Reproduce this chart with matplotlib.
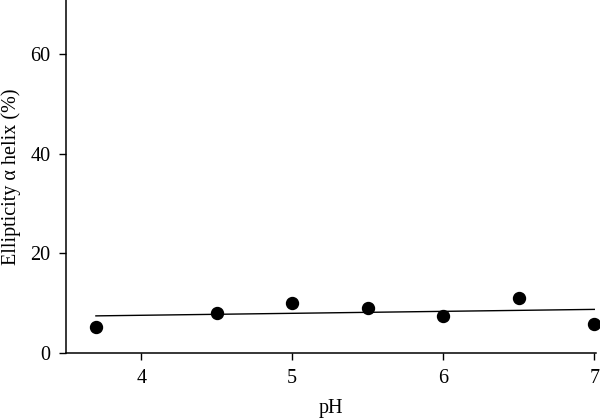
import matplotlib
matplotlib.use("Agg")
import matplotlib.pyplot as plt

ph = [3.7, 4.5, 5.0, 5.5, 6.0, 6.5, 7.0]
helix = [5.3, 8.0, 10.0, 9.1, 7.5, 11.1, 5.9]
fit_x = [3.7, 7.0]
fit_y = [7.5, 8.8]
xticks = [4, 5, 6, 7]
yticks = [0, 20, 40, 60]

plt.rcParams['font.family'] = ['Liberation Serif', 'DejaVu Serif']

fig = plt.figure(figsize=(6.0, 4.19), dpi=100)
ax = fig.add_axes([0.1095, 0.1568, 0.8835, 0.8432])

ax.plot(fit_x, fit_y, color='black', lw=1.0)
ax.plot(ph, helix, 'o', color='black', markersize=8.6, clip_on=False)

ax.set_xlim(3.5, 7.01)
ax.set_ylim(0, 70.8)
ax.set_xticks(xticks)
ax.set_yticks(yticks)
ax.spines['top'].set_visible(False)
ax.spines['right'].set_visible(False)
for s in ['left', 'bottom']:
    ax.spines[s].set_linewidth(1.1)
ax.tick_params(direction='out', length=5, width=1.0, labelsize=14.5, pad=6)

ax.set_xlabel('pH', fontsize=14.5, labelpad=8)
ax.set_ylabel('Ellipticity α helix (%)', fontsize=14.5, labelpad=7)

fig.savefig('out.png', dpi=100)
